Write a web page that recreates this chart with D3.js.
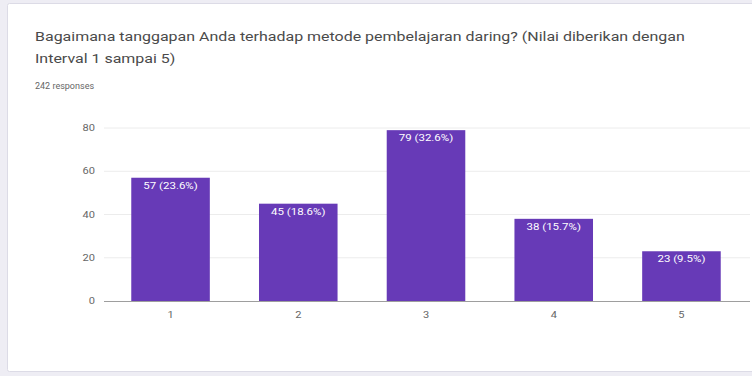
<!DOCTYPE html>
<html>
<head>
<meta charset="utf-8">
<script src="https://cdn.jsdelivr.net/npm/d3@7"></script>
<style>
  html, body { margin: 0; padding: 0; background: #eeedf4; }
  svg { display: block; }
</style>
</head>
<body>
<svg id="chart" width="752" height="376"></svg>
<script>
// Survey answers on a 1–5 scale
const categories = ["1", "2", "3", "4", "5"];
const counts = [57, 45, 79, 38, 23];
const percentLabels = ["23.6%", "18.6%", "32.6%", "15.7%", "9.5%"];
const yTicks = [0, 20, 40, 60, 80];
const titleLines = [
  "Bagaimana tanggapan Anda terhadap metode pembelajaran daring? (Nilai diberikan dengan",
  "Interval 1 sampai 5)"
];
const responsesText = "242 responses";

const svg = d3.select("#chart");
const font = "Roboto, 'Liberation Sans', Arial, sans-serif";
const WIDEN = 1.3; // the form renders its type slightly wide

// widen each text element horizontally by a factor
function widen(sel, k) {
  sel.each(function () {
    const w = this.getComputedTextLength();
    d3.select(this).attr("textLength", w * k).attr("lengthAdjust", "spacingAndGlyphs");
  });
}

// card
svg.append("rect")
  .attr("x", 7.5).attr("y", 3.5)
  .attr("width", 760).attr("height", 368)
  .attr("rx", 2)
  .attr("fill", "#ffffff")
  .attr("stroke", "#dcdbe6");

// heading
svg.append("g").selectAll("text")
  .data(titleLines)
  .join("text")
  .attr("x", 35)
  .attr("y", (d, i) => 41 + i * 22)
  .attr("font-family", font)
  .attr("font-size", 12)
  .attr("fill", "#4a4a4a")
  .text(d => d)
  .call(widen, 1.33);

svg.append("text")
  .attr("x", 35).attr("y", 89)
  .attr("font-family", font)
  .attr("font-size", 8.2)
  .attr("fill", "#666")
  .text(responsesText)
  .call(widen, 1.1);

// scales
const x = d3.scaleBand()
  .domain(categories)
  .range([107, 745])
  .paddingInner(0.385)
  .paddingOuter(0.19);

const y = d3.scaleLinear()
  .domain([0, 80])
  .range([301, 128]);

// gridlines
svg.append("g")
  .selectAll("line")
  .data(yTicks.filter(t => t > 0))
  .join("line")
  .attr("x1", 104).attr("x2", 750)
  .attr("y1", d => y(d)).attr("y2", d => y(d))
  .attr("stroke", "#ececec")
  .attr("stroke-width", 1);

// y axis labels
const yAxis = d3.axisLeft(y).tickValues(yTicks).tickSize(0).tickPadding(0);
const yg = svg.append("g").attr("transform", "translate(95,0)").call(yAxis);
yg.select(".domain").remove();
yg.selectAll("text")
  .attr("font-family", font)
  .attr("font-size", 8.5)
  .attr("fill", "#666")
  .call(widen, WIDEN);

// bars
svg.append("g")
  .selectAll("rect")
  .data(counts)
  .join("rect")
  .attr("x", (d, i) => x(categories[i]))
  .attr("y", d => y(d))
  .attr("width", x.bandwidth())
  .attr("height", d => y(0) - y(d))
  .attr("fill", "#673ab7");

// value labels inside bars
svg.append("g")
  .selectAll("text")
  .data(counts)
  .join("text")
  .attr("x", (d, i) => x(categories[i]) + x.bandwidth() / 2)
  .attr("y", d => y(d) + 11)
  .attr("text-anchor", "middle")
  .attr("font-family", font)
  .attr("font-size", 8.5)
  .attr("fill", "#ffffff")
  .text((d, i) => `${d} (${percentLabels[i]})`)
  .call(widen, 1.35);

// baseline
svg.append("line")
  .attr("x1", 104).attr("x2", 750)
  .attr("y1", y(0) + 0.5).attr("y2", y(0) + 0.5)
  .attr("stroke", "#9e9e9e")
  .attr("stroke-width", 1.2);

// x axis labels
const xAxis = d3.axisBottom(x).tickSize(0).tickPadding(0);
const xg = svg.append("g").attr("transform", `translate(0,${y(0) + 17})`).call(xAxis);
xg.select(".domain").remove();
xg.selectAll("text")
  .attr("font-family", font)
  .attr("font-size", 8.5)
  .attr("fill", "#666")
  .attr("dy", 0)
  .call(widen, WIDEN);
</script>
</body>
</html>
